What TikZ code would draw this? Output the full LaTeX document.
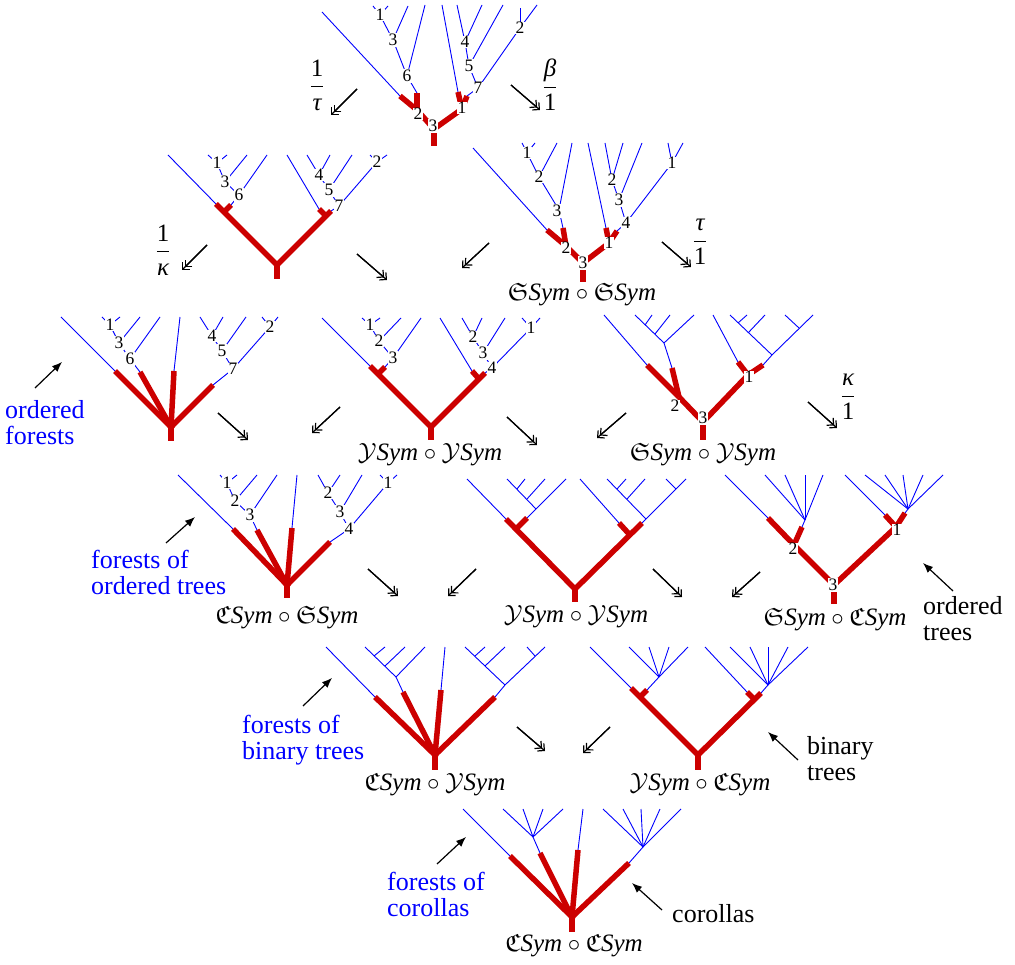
\documentclass[tikz,border=0pt]{standalone}
\usepackage{amssymb}
\usepackage{fontspec}
\setmainfont{Liberation Serif}
\usetikzlibrary{arrows.meta,calc}
\definecolor{tred}{RGB}{204,0,0}
\newcommand{\Sy}{\textit{Sym}}
\newcommand{\rarm}[2]{\draw[rd] ($(#1)!-2.5pt!(#2)$) -- (#2);}
\newcommand{\tfr}[2]{$\displaystyle\frac{\hbox{#1}}{\hbox{#2}}$}
\begin{document}
\begin{tikzpicture}[x=1pt,y=-1pt,
  bl/.style={blue,line width=0.9pt},
  rd/.style={tred,line width=5.5pt},
  lab/.style={fill=white,inner sep=0.7pt,font=\fontsize{17.5}{17.5}\selectfont},
  mor/.style={line width=1.2pt,-{Straight Barb[angle=90:7pt]}},
  ann/.style={line width=1.2pt,-{Latex[length=10pt,width=8pt]}},
  txt/.style={font=\fontsize{26}{26}\selectfont,align=left,inner sep=0pt},
  mlab/.style={font=\fontsize{25}{25}\selectfont,inner sep=0pt},
  frc/.style={font=\fontsize{25}{25}\selectfont,inner sep=0pt}]
\useasboundingbox (0,0) rectangle (1015,965);

% ================= T0 (top)
\coordinate (A-r) at (434,146);
\coordinate (A-3) at (434,129);
\coordinate (A-2) at (417,110);
\coordinate (A-1) at (462,109);
\coordinate (A-2a) at (400,96);
\coordinate (A-2b) at (417,93);
\coordinate (A-1a) at (458,92);
\coordinate (A-1b) at (467,96);
\coordinate (A-v1) at (380,15);
\coordinate (A-v3) at (393,40);
\coordinate (A-v6) at (407,76);
\coordinate (A-v4) at (465,42);
\coordinate (A-v5) at (469,66);
\coordinate (A-v7) at (478,88);
\coordinate (A-v2) at (520,28);
\draw[bl] (A-2a) -- (322,12);
\draw[bl] (A-2b) -- (A-v6) -- (425,5);
\draw[bl] (A-v6) -- (A-v3) -- (A-v1) -- (373,6);
\draw[bl] (A-v3) -- (408,6);
\draw[bl] (A-v1) -- (388,6);
\draw[bl] (A-1a) -- (442,5);
\draw[bl] (A-1b) -- (A-v7) -- (A-v5) -- (A-v4) -- (457,5);
\draw[bl] (A-v4) -- (482,5);
\draw[bl] (A-v5) -- (503,5);
\draw[bl] (A-v7) -- (A-v2) -- (537,5);
\draw[bl] (A-v2) -- (520,8);
\draw[rd] (A-3) -- (A-r);
\draw[rd] (A-3) -- (A-2);
\draw[rd] (A-3) -- (A-1);
\draw[rd] (A-2) -- (A-2a);
\draw[rd] (A-2) -- (A-2b);
\draw[rd] (A-1) -- (A-1a);
\draw[rd] (A-1) -- (A-1b);
\node[lab] (A-l1) at (A-v1) {1};
\node[lab] (A-l3) at (A-v3) {3};
\node[lab] (A-l6) at (A-v6) {6};
\node[lab] (A-l4) at (A-v4) {4};
\node[lab] (A-l5) at (A-v5) {5};
\node[lab] (A-l7) at (A-v7) {7};
\node[lab] (A-l2) at (A-v2) {2};
\node[lab] (A-r2) at (418,114) {2};
\node[lab] (A-r3) at (433,126) {3};
\node[lab] (A-r1) at (462,108) {1};

% ================= T1a
\coordinate (B-r) at (277,279);
\coordinate (B-J) at (277,265);
\coordinate (B-L) at (216,204);
\coordinate (B-NL) at (224,212);
\coordinate (B-Ls) at (231,205);
\coordinate (B-R) at (331,211);
\coordinate (B-NR) at (326,216);
\coordinate (B-Rs) at (319,209);
\coordinate (B-v1) at (217,163);
\coordinate (B-v3) at (225,182);
\coordinate (B-v6) at (239,195);
\coordinate (B-v4) at (319,175);
\coordinate (B-v5) at (329,190);
\coordinate (B-v7) at (339,206);
\coordinate (B-v2) at (377,162);
\draw[bl] (B-L) -- (168,155);
\draw[bl] (B-Ls) -- (B-v6) -- (267,155);
\draw[bl] (B-v6) -- (B-v3) -- (B-v1) -- (208,155);
\draw[bl] (B-v1) -- (227,155);
\draw[bl] (B-v3) -- (247,155);
\draw[bl] (B-Rs) -- (287,155);
\draw[bl] (B-R) -- (B-v7) -- (B-v5) -- (B-v4) -- (307,155);
\draw[bl] (B-v4) -- (330,155);
\draw[bl] (B-v5) -- (352,155);
\draw[bl] (B-v7) -- (B-v2) -- (370,155);
\draw[bl] (B-v2) -- (387,155);
\draw[rd,line join=miter] (B-L) -- (B-J) -- (B-R);
\draw[rd] (B-J) -- (B-r);
\draw[rd] (B-NL) -- (B-Ls);
\draw[rd] (B-NR) -- (B-Rs);
\node[lab] (B-l1) at (B-v1) {1};
\node[lab] (B-l3) at (B-v3) {3};
\node[lab] (B-l6) at (B-v6) {6};
\node[lab] (B-l4) at (B-v4) {4};
\node[lab] (B-l5) at (B-v5) {5};
\node[lab] (B-l7) at (B-v7) {7};
\node[lab] (B-l2) at (B-v2) {2};

% ================= T1b  SSym o SSym
\coordinate (C-r) at (583,282);
\coordinate (C-3) at (583,263);
\coordinate (C-2) at (566,246);
\coordinate (C-1) at (609,243);
\coordinate (C-2a) at (547,230);
\coordinate (C-2b) at (563,228);
\coordinate (C-1a) at (606,228);
\coordinate (C-1b) at (617,231);
\coordinate (C-v1) at (527,153);
\coordinate (C-v2) at (539,177);
\coordinate (C-v3) at (559,210);
\coordinate (C-w2) at (612,180);
\coordinate (C-w3) at (619,200);
\coordinate (C-w4) at (626,223);
\coordinate (C-w1) at (672,163);
\draw[bl] (C-2a) -- (473,148);
\draw[bl] (C-2b) -- (C-v3) -- (572,143);
\draw[bl] (C-v3) -- (C-v2) -- (C-v1) -- (522,143);
\draw[bl] (C-v1) -- (535,143);
\draw[bl] (C-v2) -- (557,143);
\draw[bl] (C-1a) -- (588,143);
\draw[bl] (C-1b) -- (C-w4) -- (C-w3) -- (C-w2) -- (605,143);
\draw[bl] (C-w2) -- (623,143);
\draw[bl] (C-w3) -- (642,143);
\draw[bl] (C-w4) -- (C-w1) -- (668,143);
\draw[bl] (C-w1) -- (683,143);
\draw[rd] (C-3) -- (C-r);
\draw[rd] (C-3) -- (C-2);
\draw[rd] (C-3) -- (C-1);
\draw[rd] (C-2) -- (C-2a);
\draw[rd] (C-2) -- (C-2b);
\draw[rd] (C-1) -- (C-1a);
\draw[rd] (C-1) -- (C-1b);
\node[lab] (C-l1) at (C-v1) {1};
\node[lab] (C-l2) at (C-v2) {2};
\node[lab] (C-l3) at (557,211) {3};
\node[lab] (C-m2) at (C-w2) {2};
\node[lab] (C-m3) at (C-w3) {3};
\node[lab] (C-m4) at (C-w4) {4};
\node[lab] (C-m1) at (C-w1) {1};
\node[lab] (C-r2) at (566,248) {2};
\node[lab] (C-r3) at (C-3) {3};
\node[lab] (C-r1) at (C-1) {1};
\node[mlab] (C-name) at (582,295) {$\mathfrak{S}\Sy\circ\mathfrak{S}\Sy$};

% ================= T2a  ordered forests
\coordinate (D-r) at (171,441);
\coordinate (D-J) at (171,427);
\coordinate (D-a) at (115,371);
\coordinate (D-b) at (140,372);
\coordinate (D-c) at (174,371);
\coordinate (D-d) at (213,385);
\coordinate (D-v1) at (110,325);
\coordinate (D-v3) at (119,343);
\coordinate (D-v6) at (130,359);
\coordinate (D-v4) at (212,336);
\coordinate (D-v5) at (222,351);
\coordinate (D-v7) at (233,369);
\coordinate (D-v2) at (270,327);
\draw[bl] (D-a) -- (61,317);
\draw[bl] (D-b) -- (D-v6) -- (160,317);
\draw[bl] (D-v6) -- (D-v3) -- (D-v1) -- (102,317);
\draw[bl] (D-v1) -- (120,317);
\draw[bl] (D-v3) -- (140,317);
\draw[bl] (D-c) -- (180,317);
\draw[bl] (D-d) -- (D-v7) -- (D-v5) -- (D-v4) -- (200,317);
\draw[bl] (D-v4) -- (223,317);
\draw[bl] (D-v5) -- (246,317);
\draw[bl] (D-v7) -- (D-v2) -- (262,317);
\draw[bl] (D-v2) -- (278,317);
\draw[rd] (D-J) -- (D-r);
\rarm{D-J}{D-a}\rarm{D-J}{D-b}\rarm{D-J}{D-c}\rarm{D-J}{D-d}
\node[lab] (D-l1) at (D-v1) {1};
\node[lab] (D-l3) at (D-v3) {3};
\node[lab] (D-l6) at (D-v6) {6};
\node[lab] (D-l4) at (D-v4) {4};
\node[lab] (D-l5) at (D-v5) {5};
\node[lab] (D-l7) at (D-v7) {7};
\node[lab] (D-l2) at (D-v2) {2};

% ================= T2b  YSym o YSym
\coordinate (E-r) at (431,440);
\coordinate (E-J) at (431,427);
\coordinate (E-L) at (370,366);
\coordinate (E-NL) at (378,374);
\coordinate (E-Ls) at (385,367);
\coordinate (E-R) at (485,373);
\coordinate (E-NR) at (479,379);
\coordinate (E-Rs) at (472,371);
\coordinate (E-v1) at (370,325);
\coordinate (E-v2) at (379,341);
\coordinate (E-v3) at (393,358);
\coordinate (E-w2) at (473,337);
\coordinate (E-w3) at (483,353);
\coordinate (E-w4) at (492,368);
\coordinate (E-w1) at (531,328);
\draw[bl] (E-L) -- (322,318);
\draw[bl] (E-Ls) -- (E-v3) -- (421,318);
\draw[bl] (E-v3) -- (E-v2) -- (E-v1) -- (362,318);
\draw[bl] (E-v1) -- (380,318);
\draw[bl] (E-v2) -- (401,318);
\draw[bl] (E-Rs) -- (440,318);
\draw[bl] (E-R) -- (E-w4) -- (E-w3) -- (E-w2) -- (462,318);
\draw[bl] (E-w2) -- (482,318);
\draw[bl] (E-w3) -- (505,318);
\draw[bl] (E-w4) -- (E-w1) -- (522,318);
\draw[bl] (E-w1) -- (540,318);
\draw[rd,line join=miter] (E-L) -- (E-J) -- (E-R);
\draw[rd] (E-J) -- (E-r);
\draw[rd] (E-NL) -- (E-Ls);
\draw[rd] (E-NR) -- (E-Rs);
\node[lab] (E-l1) at (E-v1) {1};
\node[lab] (E-l2) at (E-v2) {2};
\node[lab] (E-l3) at (E-v3) {3};
\node[lab] (E-m2) at (E-w2) {2};
\node[lab] (E-m3) at (E-w3) {3};
\node[lab] (E-m4) at (E-w4) {4};
\node[lab] (E-m1) at (E-w1) {1};
\node[mlab] (E-name) at (430,455) {$\mathcal{Y}\Sy\circ\mathcal{Y}\Sy$};

% ================= T2c  SSym o YSym
\coordinate (F-r) at (703,440);
\coordinate (F-3) at (703,422);
\coordinate (F-2) at (679,397);
\coordinate (F-1) at (748,375);
\coordinate (F-2a) at (647,365);
\coordinate (F-2b) at (672,368);
\coordinate (F-1a) at (738,362);
\coordinate (F-1b) at (763,365);
\coordinate (F-g) at (664,343);
\coordinate (F-g1) at (645,325);
\coordinate (F-g2) at (655,334);
\coordinate (F-h) at (772,355);
\coordinate (F-h1) at (738,323);
\coordinate (F-h2) at (748,333);
\coordinate (F-h3) at (799,328);
\draw[bl] (F-2a) -- (604,315);
\draw[bl] (F-2b) -- (F-g) -- (694,315);
\draw[bl] (F-g) -- (635,315);
\draw[bl] (F-g1) -- (652,315);
\draw[bl] (F-g2) -- (670,315);
\draw[bl] (F-1a) -- (713,315);
\draw[bl] (F-1b) -- (F-h) -- (813,315);
\draw[bl] (F-h) -- (730,315);
\draw[bl] (F-h1) -- (747,315);
\draw[bl] (F-h2) -- (765,315);
\draw[bl] (F-h3) -- (785,315);
\draw[rd] (F-3) -- (F-r);
\draw[rd] (F-3) -- (F-2);
\draw[rd] (F-3) -- (F-1);
\draw[rd] (F-2) -- (F-2a);
\draw[rd] (F-2) -- (F-2b);
\draw[rd] (F-1) -- (F-1a);
\draw[rd] (F-1) -- (F-1b);
\node[lab] (F-r2) at (675,406) {2};
\node[lab] (F-r3) at (703,418) {3};
\node[lab] (F-r1) at (749,377) {1};
\node[mlab] (F-name) at (703,455) {$\mathfrak{S}\Sy\circ\mathcal{Y}\Sy$};

% ================= T3a  CSym o SSym
\coordinate (G-r) at (287,598);
\coordinate (G-J) at (287,585);
\coordinate (G-a) at (233,529);
\coordinate (G-b) at (257,530);
\coordinate (G-c) at (292,528);
\coordinate (G-d) at (330,542);
\coordinate (G-v1) at (227,483);
\coordinate (G-v2) at (235,501);
\coordinate (G-v3) at (250,515);
\coordinate (G-w2) at (328,493);
\coordinate (G-w3) at (340,512);
\coordinate (G-w4) at (349,529);
\coordinate (G-w1) at (388,483);
\draw[bl] (G-a) -- (178,475);
\draw[bl] (G-b) -- (G-v3) -- (277,475);
\draw[bl] (G-v3) -- (G-v2) -- (G-v1) -- (220,475);
\draw[bl] (G-v1) -- (237,475);
\draw[bl] (G-v2) -- (257,475);
\draw[bl] (G-c) -- (297,475);
\draw[bl] (G-d) -- (G-w4) -- (G-w3) -- (G-w2) -- (318,475);
\draw[bl] (G-w2) -- (340,475);
\draw[bl] (G-w3) -- (362,475);
\draw[bl] (G-w4) -- (G-w1) -- (380,475);
\draw[bl] (G-w1) -- (397,475);
\draw[rd] (G-J) -- (G-r);
\rarm{G-J}{G-a}\rarm{G-J}{G-b}\rarm{G-J}{G-c}\rarm{G-J}{G-d}
\node[lab] (G-l1) at (G-v1) {1};
\node[lab] (G-l2) at (G-v2) {2};
\node[lab] (G-l3) at (G-v3) {3};
\node[lab] (G-m2) at (G-w2) {2};
\node[lab] (G-m3) at (G-w3) {3};
\node[lab] (G-m4) at (G-w4) {4};
\node[lab] (G-m1) at (G-w1) {1};
\node[mlab] (G-name) at (287,618) {$\mathfrak{C}\Sy\circ\mathfrak{S}\Sy$};

% ================= T3b  YSym o YSym
\coordinate (H-r) at (575,602);
\coordinate (H-J) at (575,589);
\coordinate (H-L) at (506,519);
\coordinate (H-NL) at (516,529);
\coordinate (H-Ls) at (527,518);
\coordinate (H-R) at (642,523);
\coordinate (H-NR) at (630,535);
\coordinate (H-Rs) at (619,523);
\coordinate (H-m) at (536,509);
\coordinate (H-m1) at (517,489);
\coordinate (H-m2) at (527,499);
\coordinate (H-n) at (646,519);
\coordinate (H-n1) at (617,489);
\coordinate (H-n2) at (627,499);
\coordinate (H-p) at (676,489);
\draw[bl] (H-L) -- (467,479);
\draw[bl] (H-Ls) -- (H-m) -- (566,479);
\draw[bl] (H-m) -- (507,479);
\draw[bl] (H-m1) -- (525,479);
\draw[bl] (H-m2) -- (545,479);
\draw[bl] (H-Rs) -- (580,479);
\draw[bl] (H-R) -- (H-n) -- (H-p) -- (686,479);
\draw[bl] (H-n) -- (607,479);
\draw[bl] (H-n1) -- (626,479);
\draw[bl] (H-n2) -- (645,479);
\draw[bl] (H-p) -- (666,479);
\draw[rd,line join=miter] (H-L) -- (H-J) -- (H-R);
\draw[rd] (H-J) -- (H-r);
\draw[rd] (H-NL) -- (H-Ls);
\draw[rd] (H-NR) -- (H-Rs);
\node[mlab] (H-name) at (576,617) {$\mathcal{Y}\Sy\circ\mathcal{Y}\Sy$};

% ================= T3c  SSym o CSym
\coordinate (I-r) at (834,604);
\coordinate (I-3) at (834,585);
\coordinate (I-2) at (794,545);
\coordinate (I-1) at (896,527);
\coordinate (I-2a) at (768,518);
\coordinate (I-2b) at (802,527);
\coordinate (I-1a) at (885,515);
\coordinate (I-1b) at (905,513);
\coordinate (I-c) at (805,520);
\coordinate (I-s) at (908,509);
\draw[bl] (I-2a) -- (725,475);
\draw[bl] (I-2b) -- (I-c);
\foreach \x in {765,785,805,823} \draw[bl] (I-c) -- (\x,475);
\draw[bl] (I-1a) -- (845,475);
\draw[bl] (I-1b) -- (I-s);
\foreach \x in {865,885,903,923,943} \draw[bl] (I-s) -- (\x,475);
\draw[rd] (I-3) -- (I-r);
\draw[rd] (I-3) -- (I-2);
\draw[rd] (I-3) -- (I-1);
\draw[rd] (I-2) -- (I-2a);
\draw[rd] (I-2) -- (I-2b);
\draw[rd] (I-1) -- (I-1a);
\draw[rd] (I-1) -- (I-1b);
\node[lab] (I-r2) at (793,549) {2};
\node[lab] (I-r3) at (833,585) {3};
\node[lab] (I-r1) at (897,530) {1};
\node[mlab] (I-name) at (835,620) {$\mathfrak{S}\Sy\circ\mathfrak{C}\Sy$};

% ================= T4a  CSym o YSym
\coordinate (K-r) at (435,770);
\coordinate (K-J) at (435,755);
\coordinate (K-a) at (375,697);
\coordinate (K-b) at (403,692);
\coordinate (K-c) at (441,690);
\coordinate (K-d) at (495,697);
\coordinate (K-t) at (396,677);
\coordinate (K-t1) at (374,656);
\coordinate (K-t2) at (385,666);
\coordinate (K-u) at (505,685);
\coordinate (K-u1) at (475,656);
\coordinate (K-u2) at (485,666);
\coordinate (K-u3) at (535,656);
\draw[bl] (K-a) -- (326,647);
\draw[bl] (K-b) -- (K-t) -- (425,647);
\draw[bl] (K-t) -- (365,647);
\draw[bl] (K-t1) -- (385,647);
\draw[bl] (K-t2) -- (405,647);
\draw[bl] (K-c) -- (445,647);
\draw[bl] (K-d) -- (K-u) -- (545,647);
\draw[bl] (K-u) -- (465,647);
\draw[bl] (K-u1) -- (485,647);
\draw[bl] (K-u2) -- (505,647);
\draw[bl] (K-u3) -- (527,647);
\draw[rd] (K-J) -- (K-r);
\rarm{K-J}{K-a}\rarm{K-J}{K-b}\rarm{K-J}{K-c}\rarm{K-J}{K-d}
\node[mlab] (K-name) at (435,785) {$\mathfrak{C}\Sy\circ\mathcal{Y}\Sy$};

% ================= T4b  YSym o CSym
\coordinate (L-r) at (698,770);
\coordinate (L-J) at (698,755);
\coordinate (L-L) at (631,688);
\coordinate (L-NL) at (640,697);
\coordinate (L-Ls) at (647,690);
\coordinate (L-R) at (761,693);
\coordinate (L-NR) at (754,699);
\coordinate (L-Rs) at (747,692);
\coordinate (L-w) at (659,677);
\coordinate (L-z) at (768,685);
\draw[bl] (L-L) -- (590,647);
\draw[bl] (L-Ls) -- (L-w);
\foreach \x in {629,649,669,688} \draw[bl] (L-w) -- (\x,647);
\draw[bl] (L-Rs) -- (705,647);
\draw[bl] (L-R) -- (L-z);
\foreach \x in {730,750,768,788,808} \draw[bl] (L-z) -- (\x,647);
\draw[rd,line join=miter] (L-L) -- (L-J) -- (L-R);
\draw[rd] (L-J) -- (L-r);
\draw[rd] (L-NL) -- (L-Ls);
\draw[rd] (L-NR) -- (L-Rs);
\node[mlab] (L-name) at (700,785) {$\mathcal{Y}\Sy\circ\mathfrak{C}\Sy$};

% ================= T5  CSym o CSym
\coordinate (M-r) at (572,932);
\coordinate (M-J) at (572,917);
\coordinate (M-a) at (510,856);
\coordinate (M-b) at (540,853);
\coordinate (M-c) at (578,850);
\coordinate (M-d) at (629,863);
\coordinate (M-p) at (533,837);
\coordinate (M-q) at (643,847);
\draw[bl] (M-a) -- (463,809);
\draw[bl] (M-b) -- (M-p);
\foreach \x in {503,523,543,563} \draw[bl] (M-p) -- (\x,809);
\draw[bl] (M-c) -- (583,809);
\draw[bl] (M-d) -- (M-q);
\foreach \x in {603,623,641,660,681} \draw[bl] (M-q) -- (\x,809);
\draw[rd] (M-J) -- (M-r);
\rarm{M-J}{M-a}\rarm{M-J}{M-b}\rarm{M-J}{M-c}\rarm{M-J}{M-d}
\node[mlab] (M-name) at (574,946) {$\mathfrak{C}\Sy\circ\mathfrak{C}\Sy$};

% ================= morphism arrows (double barbed heads)
\foreach \n/\a/\b/\c/\d in {1/357/89/331/115, 2/511/85/540/110, 3/207/245/182/270,
  4/357/254/387/280, 5/489/243/462/268, 6/662/242/691/267, 8/218/413/248/440,
  9/340/407/312/433, 10/507/417/537/445, 11/626/413/597/438, 12/808/402/837/428,
  14/368/569/398/596, 15/476/569/448/596, 16/653/569/682/597, 17/760/572/732/597,
  20/517/727/545/751, 21/610/727/583/753}{
  \coordinate (mo\n s) at (\a,\b);
  \coordinate (mo\n e) at (\c,\d);
  \draw[mor] (mo\n s) -- (mo\n e);
  \draw[mor] (mo\n s) -- ($(mo\n e)!3.8pt!(mo\n s)$);
}

% ================= fractions
\node[frc] (f1) at (317,85) {\tfr{1}{\itshape τ}};
\node[frc] (f2) at (550,85) {\tfr{\itshape β}{1}};
\node[frc] (f3) at (163,250) {\tfr{1}{\itshape κ}};
\node[frc] (f4) at (700,242) {\tfr{\itshape τ}{1}};
\node[frc] (f5) at (848,397) {\tfr{\itshape κ}{1}};

% ================= annotations
\node[txt,text=blue,anchor=west] (t1) at (5,423) {ordered\\forests};
\node[txt,text=blue,anchor=west] (t2) at (91,572) {forests of\\ordered trees};
\node[txt,text=blue,anchor=west] (t3) at (242,740) {forests of\\binary trees};
\node[txt,text=blue,anchor=west] (t4) at (387,894) {forests of\\corollas};
\node[txt,anchor=west] (t5) at (923,619) {ordered\\trees};
\node[txt,anchor=west] (t6) at (807,759) {binary\\trees};
\node[txt,anchor=west] (t7) at (672,914) {corollas};
\foreach \n/\a/\b/\c/\d in {1/35/388/62/362, 2/166/543/195/517, 3/953/591/923/563,
  4/303/706/332/678, 5/798/760/768/732, 6/437/864/466/837, 7/662/910/632/883}{
  \coordinate (an\n s) at (\a,\b);
  \coordinate (an\n e) at (\c,\d);
  \draw[ann] (an\n s) -- (an\n e);
}
\end{tikzpicture}
\end{document}
